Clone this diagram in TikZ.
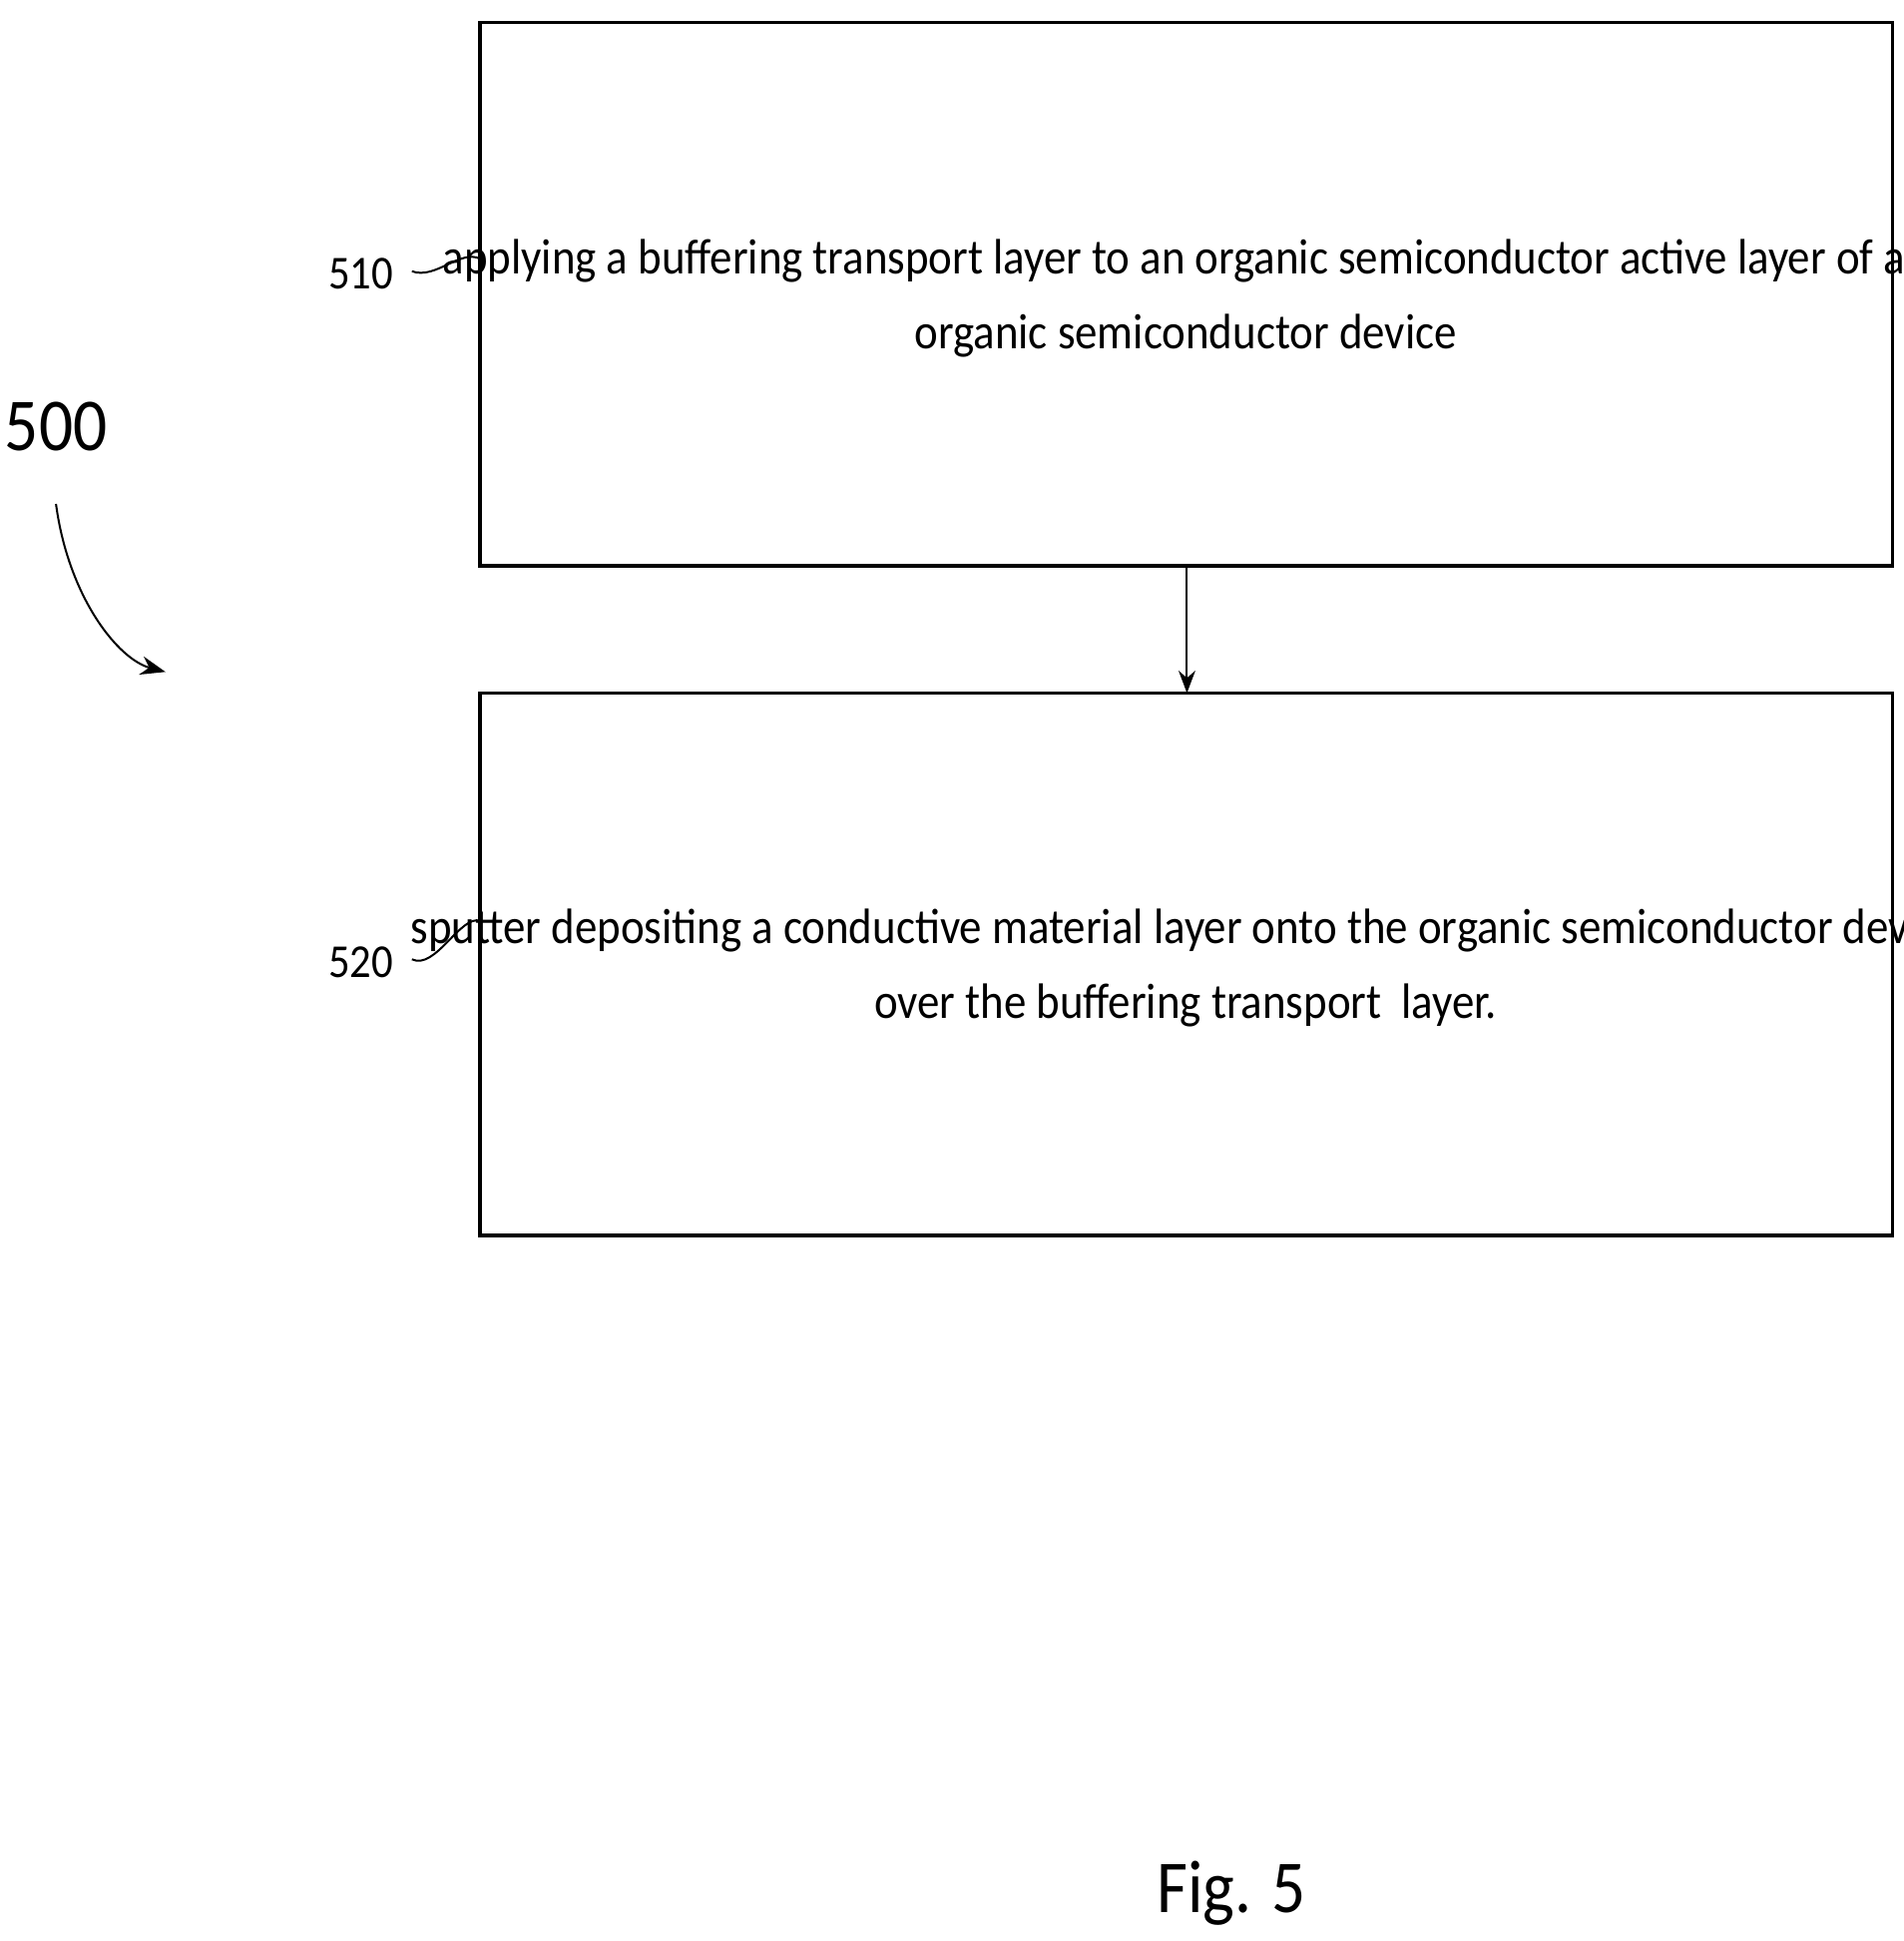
\documentclass[tikz,border=0pt]{standalone}
\usepackage{fontspec}
\setmainfont{Carlito}
\usetikzlibrary{arrows.meta}
\tikzset{
  stepbox/.style={draw, line width=1.5pt, inner sep=0pt},
  reflabel/.style={font=\fontsize{19}{22}\selectfont},
  steptext/.style={font=\fontsize{20}{30}\selectfont, align=center}
}
\newcommand{\narrow}[1]{\scalebox{0.9}[1]{#1}}
\begin{document}
\begin{tikzpicture}[x=0.5pt, y=-0.5pt]
  \useasboundingbox (0,0) rectangle (1530,1560);
  % boxes
  \draw[stepbox] (386,18) rectangle (1521,455);
  \draw[stepbox] (386,557) rectangle (1521,993);
  \coordinate (b1bot) at (954,455);
  \coordinate (b2top) at (954,557);
  \node[steptext] (t510) at (953,240) {\narrow{applying a buffering transport layer to an organic semiconductor active layer of an}\\ \narrow{organic semiconductor device}};
  \node[steptext] (t520) at (953,778) {\narrow{sputter depositing a conductive material layer onto the organic semiconductor device}\\ \narrow{over the buffering transport\ \ layer.}};
  \draw[-{Stealth[length=9pt]}, line width=0.8pt] (b1bot) -- (b2top);
  % reference numerals
  \node[reflabel] (n510) at (290,220) {\narrow{510}};
  \node[reflabel] (n520) at (290,773) {\narrow{520}};
  \coordinate (c510) at (386,208);
  \coordinate (c520) at (386,740);
  \draw[line width=0.8pt] (n510.east) ++(8,-2) .. controls (350,225) and (370,200) .. (c510);
  \draw[line width=0.8pt] (n520.east) ++(8,-2) .. controls (350,780) and (370,735) .. (c520);
  \node[font=\fontsize{30}{34}\selectfont] (n500) at (45,343) {\narrow{500}};
  \coordinate (a500) at (133,540);
  \draw[-{Stealth[length=10pt]}, line width=0.8pt] (45,405) .. controls (55,480) and (95,530) .. (a500);
  \node[font=\fontsize{30}{34}\selectfont] (fig) at (990,1522) {\narrow{Fig. 5}};
\end{tikzpicture}
\end{document}
